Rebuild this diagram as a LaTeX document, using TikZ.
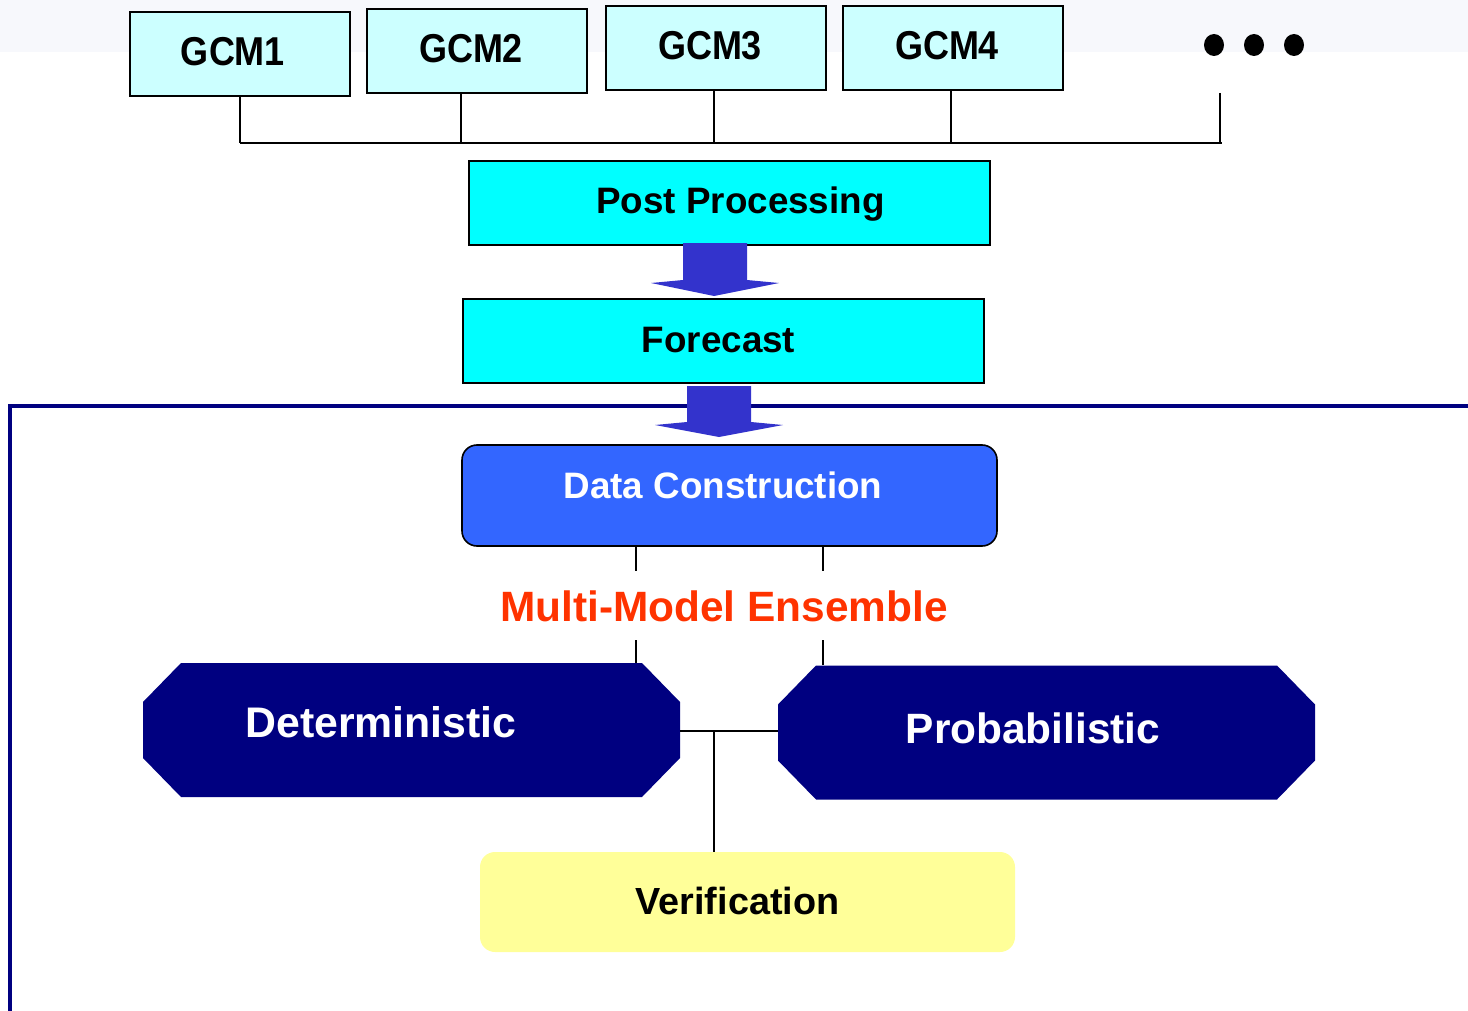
\documentclass[tikz,border=0pt]{standalone}
\usepackage{fontspec}
\setmainfont{Liberation Sans}
\usetikzlibrary{calc,shapes.geometric}
\definecolor{gcmfill}{HTML}{CCFFFF}
\definecolor{cyanfill}{HTML}{00FFFF}
\definecolor{arrowc}{HTML}{3333CC}
\definecolor{navyc}{HTML}{000080}
\definecolor{dcfill}{HTML}{3366FF}
\definecolor{redc}{HTML}{FF3300}
\definecolor{yellowc}{HTML}{FFFF99}
\definecolor{bandc}{HTML}{F7F8FC}
\begin{document}
\begin{tikzpicture}[x=0.5pt,y=-0.5pt,
  gcm/.style={draw=black, line width=1pt, fill=gcmfill, minimum width=110pt, minimum height=42pt, inner sep=0pt,
    font=\bfseries\fontsize{18}{18}\selectfont, text height=13pt, text depth=1pt},
  procbox/.style={draw=black, line width=1pt, fill=cyanfill, minimum width=260.5pt, minimum height=42pt, inner sep=0pt,
    font=\bfseries\fontsize{18.4}{18.4}\selectfont, text height=13.2pt, text depth=0pt},
  dcbox/.style={draw=black, line width=0.8pt, fill=dcfill, rounded corners=7.5pt, minimum width=267.5pt, minimum height=50.5pt,
    inner sep=0pt, text=white, font=\bfseries\fontsize{18.4}{18.4}\selectfont, text height=13.2pt},
  octa/.style={minimum width=268.5pt, minimum height=67pt, inner sep=0pt, text=white,
    path picture={\fill[navyc] ($(path picture bounding box.north west)+(38,0)$) -- ($(path picture bounding box.north east)+(-38,0)$)
      -- ($(path picture bounding box.north east)+(0,39)$) -- ($(path picture bounding box.south east)+(0,-39)$)
      -- ($(path picture bounding box.south east)+(-38,0)$) -- ($(path picture bounding box.south west)+(38,0)$)
      -- ($(path picture bounding box.south west)+(0,-39)$) -- ($(path picture bounding box.north west)+(0,39)$) -- cycle;}},
  verbox/.style={fill=yellowc, rounded corners=7.5pt, minimum width=267.5pt, minimum height=50pt, inner sep=0pt,
    font=\bfseries\fontsize{18.9}{18.9}\selectfont, text height=13.5pt, text depth=1pt},
  dot/.style={ellipse, fill=black, minimum width=10pt, minimum height=11pt, inner sep=0pt},
  conn/.style={draw=black, line width=0.8pt},
  bigarrow/.style={fill=arrowc}
]
\useasboundingbox (0,0) rectangle (1468,1011);
\fill[bandc] (0,0) rectangle (1468,52);

% top models
\node[gcm] (g1) at (240,54) {\scalebox{1}[1.12]{GCM1}\hspace*{7pt}};
\node[gcm] (g2) at (477,51) {\scalebox{1}[1.12]{GCM2}\hspace*{6pt}};
\node[gcm] (g3) at (715.5,48) {\scalebox{1}[1.12]{GCM3}\hspace*{5.5pt}};
\node[gcm] (g4) at (953,48) {\scalebox{1}[1.12]{GCM4}\hspace*{6pt}};
\node[dot] (d1) at (1214,45) {};
\node[dot] (d2) at (1254,45) {};
\node[dot] (d3) at (1294,45) {};
\coordinate (dend) at (1220,93);
\coordinate (bus) at (240,143);
\coordinate (busR) at (1222,143);
\coordinate (c2) at ($(g2.south)+(-16,0)$);
\coordinate (c3) at ($(g3.south)+(-1.5,0)$);
\coordinate (c4) at ($(g4.south)+(-2,0)$);

\draw[conn] (g1.south) -- (g1.south |- bus);
\draw[conn] (c2) -- (c2 |- bus);
\draw[conn] (c3) -- (c3 |- bus);
\draw[conn] (c4) -- (c4 |- bus);
\draw[conn] (dend) -- (dend |- bus);
\draw[conn] (bus) -- (busR);

% processing chain
\node[procbox, text depth=3pt] (pp) at (729.5,203) {\hspace*{11pt}Post Processing};
\node[procbox, text depth=2pt] (fc) at (723,341) {Forecast\hspace*{4.5pt}};

% frame
\draw[navyc, line width=2pt] (1468,406) -- (10,406) -- (10,1011);

% big arrows
\fill[bigarrow] ($(pp.south)+(-46.5,-3)$) -- ($(pp.south)+(-46.5,34)$) -- ($(pp.south)+(-78.5,37)$)
  -- ($(pp.south)+(-15.5,50)$) -- ($(pp.south)+(49.5,37)$) -- ($(pp.south)+(17.5,34)$) -- ($(pp.south)+(17.5,-3)$) -- cycle;
\fill[bigarrow] ($(fc.south)+(-36,2)$) -- ($(fc.south)+(-36,38)$) -- ($(fc.south)+(-68,41)$)
  -- ($(fc.south)+(-4,53)$) -- ($(fc.south)+(60,41)$) -- ($(fc.south)+(28,38)$) -- ($(fc.south)+(28,2)$) -- cycle;

% lower part
\node[dcbox, text depth=10pt] (dc) at (729.5,495.5) {Data Construction\hspace*{6.5pt}};
\node[text=redc, font=\bfseries\fontsize{21.2}{21.2}\selectfont, inner sep=0pt] (mme) at (724,606) {Multi-Model Ensemble};
\node[octa, font=\bfseries\fontsize{21.4}{21.4}\selectfont, text height=15.3pt, text depth=8pt] (det) at (411.5,730) {Deterministic\hspace*{30.5pt}};
\node[octa, font=\bfseries\fontsize{21.2}{21.2}\selectfont, text height=15.2pt, text depth=4.5pt] (prob) at (1046.5,732.5) {Probabilistic\hspace*{13.5pt}};
\node[verbox] (ver) at (747.5,902) {Verification\hspace*{10pt}};

\draw[conn] ($(dc.south)+(-93.5,0)$) -- ++(0,24);
\draw[conn] ($(dc.south)+(93.5,0)$) -- ++(0,24);
\draw[conn] ($(det.north)+(224.5,0)$) -- ++(0,-23);
\draw[conn] ($(prob.north)+(-223.5,0)$) -- ++(0,-25);

\coordinate (jn) at (714,731);
\draw[conn] (det.east |- jn) -- (prob.west |- jn);
\draw[conn] (jn) -- (jn |- ver.north);
\end{tikzpicture}
\end{document}
